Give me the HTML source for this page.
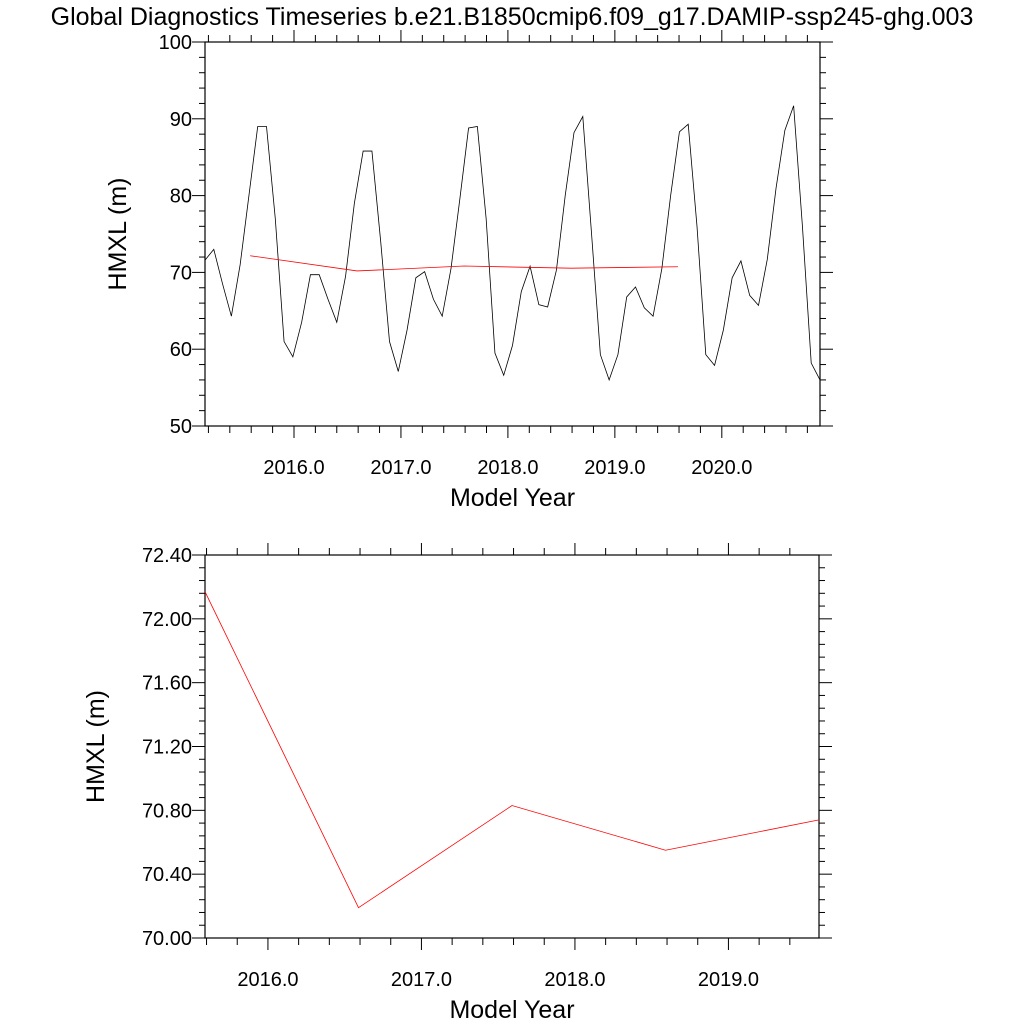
<!DOCTYPE html>
<html><head><meta charset="utf-8"><style>
html,body{margin:0;padding:0;background:#fff;}
svg text{font-family:"Liberation Sans",sans-serif;fill:#000;}
</style></head><body>
<svg id="chart" width="1024" height="1024" viewBox="0 0 1024 1024" xmlns="http://www.w3.org/2000/svg">
<text x="512" y="25" font-size="25" text-anchor="middle">Global Diagnostics Timeseries b.e21.B1850cmip6.f09_g17.DAMIP-ssp245-ghg.003</text>
<g id="top"></g>
<g id="bot"></g>
</svg>
<script>
const monthlyValues=[71.6,73,68.5,64.3,71,80,89,89,77,61,
59,63.5,69.7,69.7,66.5,63.5,69.5,79,85.8,85.8,
74,61,57.1,62.5,69.3,70.1,66.5,64.3,70.5,79.5,
88.8,89,77,59.5,56.6,60.5,67.5,70.8,65.8,65.5,
70.3,80,88.2,90.3,75,59.3,56,59.3,66.8,68.1,
65.4,64.3,70.5,80,88.3,89.3,76,59.3,57.9,62.5,
69.3,71.5,67,65.7,71.7,81,88.5,91.7,76,58.2,56.0];
const annualYears=[2015.59,2016.59,2017.59,2018.59,2019.59];
const annualValues=[72.17,70.19,70.83,70.55,70.74];
const topYTicks=["50","60","70","80","90","100"];
const botYTicks=["70.00","70.40","70.80","71.20","71.60","72.00","72.40"];
const xTickYears=["2016.0","2017.0","2018.0","2019.0","2020.0"];

const NS="http://www.w3.org/2000/svg";
function mk(parent,tag,attrs){const e=document.createElementNS(NS,tag);for(const k in attrs)e.setAttribute(k,attrs[k]);parent.appendChild(e);return e;}

function panel(g,L,R,T,B,xmin,xmax,ymin,ymax,ymaj,ymin_step,yLabels,titleX){
  const sx=v=>L+(v-xmin)/(xmax-xmin)*(R-L);
  const sy=v=>B-(v-ymin)/(ymax-ymin)*(B-T);
  const fr=mk(g,'rect',{x:L,y:T,width:R-L,height:B-T,fill:'none',stroke:'#000','stroke-width':1.2});
  
  
  for(let k=Math.ceil(xmin*5-1e-6);k<=Math.floor(xmax*5+1e-6);k++){
    const v=k/5,x=sx(v),maj=(k%5===0),len=maj?12:7;
    const t1=mk(g,'line',{x1:x,y1:B,x2:x,y2:B+len,stroke:'#000','stroke-width':1});
    
    
    const t2=mk(g,'line',{x1:x,y1:T,x2:x,y2:T-len,stroke:'#000','stroke-width':1});
    
    
  }
  xTickYears.forEach(s=>{const v=parseFloat(s);if(v<xmin||v>xmax)return;
    const t=mk(g,'text',{x:sx(v),y:B+48,'font-size':20,'text-anchor':'middle'});t.textContent=s;
    
    });
  const n=Math.round((ymax-ymin)/ymin_step);
  for(let k=0;k<=n;k++){
    const v=ymin+k*ymin_step,y=sy(v),maj=(k%Math.round(ymaj/ymin_step)===0),len=maj?13:6;
    const t1=mk(g,'line',{x1:L,y1:y,x2:L-len,y2:y,stroke:'#000','stroke-width':1});
    
    
    const t2=mk(g,'line',{x1:R,y1:y,x2:R+len,y2:y,stroke:'#000','stroke-width':1});
    
    
  }
  yLabels.forEach(s=>{const v=parseFloat(s);
    const t=mk(g,'text',{x:L-13,y:sy(v)+7,'font-size':20,'text-anchor':'end'});t.textContent=s;
    
    });
  const xt=mk(g,'text',{x:(L+R)/2,y:B+80,'font-size':25,'text-anchor':'middle'});xt.textContent='Model Year';
  
  
  const yt=mk(g,'text',{x:0,y:0,'font-size':25,'text-anchor':'middle',transform:`translate(${titleX},${(T+B)/2}) rotate(-90)`});yt.textContent='HMXL (m)';
  
  
  return {sx,sy};
}

const gt=document.getElementById('top');
const tx0=2015.168,tx1=2020.918;
const A=panel(gt,205,820,42,426,tx0,tx1,50,100,10,2,topYTicks,126);
const stepYr=(tx1-tx0)/(monthlyValues.length-1);
const mp=monthlyValues.map((v,i)=>A.sx(tx0+i*stepYr).toFixed(2)+','+A.sy(v).toFixed(2)).join(' ');
const ml=mk(gt,'polyline',{points:mp,fill:'none',stroke:'#000','stroke-width':0.8});


const ap=annualYears.map((y,i)=>A.sx(y).toFixed(2)+','+A.sy(annualValues[i]).toFixed(2)).join(' ');
const al=mk(gt,'polyline',{points:ap,fill:'none',stroke:'#f00','stroke-width':0.8});



const gb=document.getElementById('bot');
const Bp=panel(gb,205,819,555,938,2015.59,2019.59,70,72.4,0.4,0.08,botYTicks,104);
const bp=annualYears.map((y,i)=>Bp.sx(y).toFixed(2)+','+Bp.sy(annualValues[i]).toFixed(2)).join(' ');
const bl=mk(gb,'polyline',{points:bp,fill:'none',stroke:'#f00','stroke-width':0.8});


</script>
</body></html>
